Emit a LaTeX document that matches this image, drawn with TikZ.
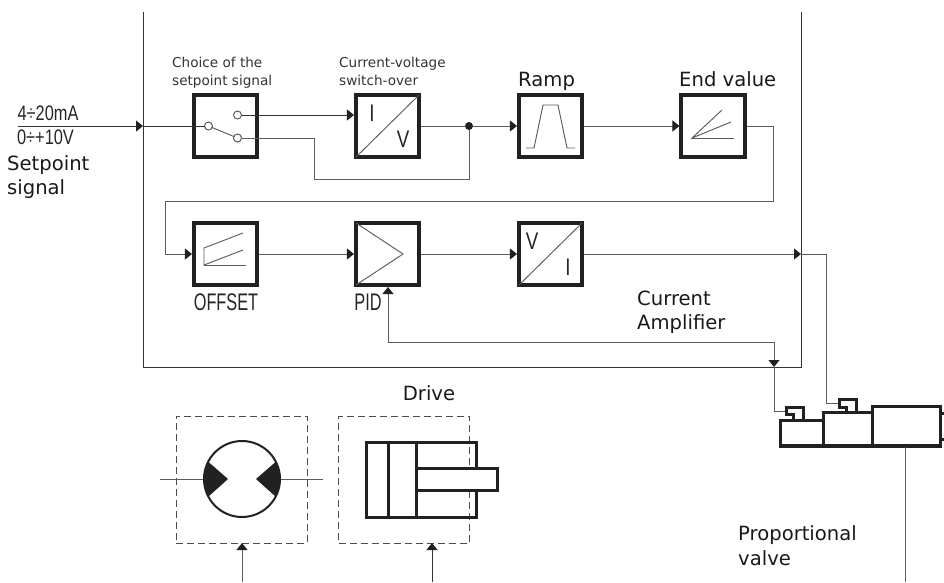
\documentclass[tikz,border=0pt]{standalone}
\usepackage{fontspec}
\setmainfont{DejaVu Sans}
\newfontfamily\narrowf[FakeStretch=0.78]{Liberation Sans}
\newfontfamily\narrowg[FakeStretch=0.68]{Liberation Sans}
\usetikzlibrary{arrows.meta,calc}
\definecolor{thin}{gray}{0.36}
\definecolor{ink}{gray}{0.13}
\tikzset{
  x=1pt,y=-1pt,
  blk/.style={draw=ink,line width=3.6pt,minimum width=63.5pt,minimum height=62.5pt,inner sep=0pt,outer sep=1.8pt,fill=white},
  wire/.style={draw=thin,line width=0.95pt},
  wirea/.style={wire,-{Triangle[length=7pt,width=11pt,fill=ink,color=ink]}},
  inner/.style={draw=thin,line width=0.95pt},
  contact/.style={circle,draw=thin,line width=1pt,minimum size=8pt,inner sep=0pt,outer sep=0pt,fill=white},
  lab/.style={inner sep=0pt,anchor=base west,align=left},
  small/.style={font=\fontsize{13.6}{15}\selectfont,text=black!80},
  big/.style={font=\fontsize{19.6}{22}\selectfont,text=black!90},
  narrow/.style={inner sep=0pt,font=\narrowf\fontsize{21}{22}\selectfont,text=black!85},
  tallnarrow/.style={inner sep=0pt,font=\narrowg\fontsize{24}{25}\selectfont,text=black!85},
  glyph/.style={inner sep=0pt,font=\narrowf\fontsize{24}{25}\selectfont,text=black!85},
  valve/.style={draw=ink,line width=3pt,line join=miter},
  cyl/.style={draw=ink,line width=3pt},
  dashbox/.style={draw=black!70,line width=0.95pt,dash pattern=on 7pt off 4pt,minimum width=131pt,minimum height=127pt,inner sep=0pt,outer sep=0pt},
}
\begin{document}
\begin{tikzpicture}
\useasboundingbox (0,0) rectangle (944,582);
% frame
\coordinate (ftl) at (143,12); \coordinate (fbl) at (143,367);
\coordinate (fbr) at (801,367); \coordinate (ftr) at (801,12);
\draw[draw=black!80,line width=0.95pt] (ftl) -- (fbl) -- (fbr) -- (ftr);
% blocks
\node[blk] (sw) at (225.5,126) {};
\node[blk] (iv) at (387.5,126) {};
\node[blk] (ramp) at (550.5,126) {};
\node[blk] (endv) at (713,126) {};
\node[blk] (off) at (225.5,254) {};
\node[blk] (pid) at (387.5,254) {};
\node[blk] (vi) at (550.5,254) {};
% switch
\node[contact] (cl) at (208.5,126) {};
\node[contact] (cu) at (237.5,115) {};
\node[contact] (cd) at (237.5,138) {};
\draw[inner] (cl) -- (cd);
% block insides
\draw[inner] (419,95) -- (356,157);
\draw[inner] (582,223) -- (519,285);
\node[glyph] (ivi) at (372,113) {I};
\node[glyph] (ivv) at (403,139) {V};
\node[glyph] (viv) at (532,241) {V};
\node[glyph] (vii) at (568,267) {I};
\draw[inner] (526,148) -- (534,148) -- (543,105) -- (558,105) -- (567,148) -- (575,148);
\draw[inner] (722,110) -- (692,138) -- (731,122);
\draw[inner] (692,138) -- (734,138);
\draw[inner] (243,233) -- (204,248) -- (204,265) -- (243,250);
\draw[inner] (204,265) -- (246,265);
\draw[inner] (356,223) -- (403,254) -- (356,285);
% input
\coordinate (in) at (18,126);
\coordinate (fin) at (143,126);
\draw[wirea,draw=black!80] (in) -- (fin);
\draw[wire,draw=black!80] (fin) -- (cl);
% switch outputs
\coordinate (ivin) at (iv.west |- cu);
\draw[wirea,draw=black!80] (cu) -- (ivin);
\node[circle,fill=ink,minimum size=8pt,inner sep=0pt] (dot) at (469,126) {};
\draw[wire] (iv.east) -- (dot);
\draw[wirea] (dot) -- (ramp.west);
\draw[wire] (cd) -- (314,138) -- (314,179) -- (469,179) -- (dot);
\draw[wirea] (ramp.east) -- (endv.west);
\draw[wirea] (endv.east) -- (773,126) -- (773,201) -- (165,201) -- (165,254) -- (off.west);
\draw[wirea] (off.east) -- (pid.west);
\draw[wirea] (pid.east) -- (vi.west);
% output
\coordinate (fout) at (801,254);
\coordinate (vin2) at (839,403);
\draw[wirea] (vi.east) -- (fout);
\draw[wire] (fout) -- (826,254) -- (826,403) -- (vin2);
% feedback
\coordinate (pidb) at (388,287);
\coordinate (fba) at (774,367);
\coordinate (vin1) at (786,411);
\draw[wirea] (774,342) -- (388,342) -- (pidb);
\draw[wirea] (774,342) -- (fba);
\draw[wire] (fba) -- (774,411) -- (vin1);
% valve
\draw[valve] (803,420) -- (803,407) -- (786,407) -- (786,414) -- (793,414) -- (793,420);
\draw[valve] (856,412) -- (856,399) -- (839,399) -- (839,407) -- (846,407) -- (846,412);
\draw[valve] (780,446) -- (780,420) -- (823,420) -- (823,446);
\draw[valve] (823,420) -- (823,412) -- (872,412);
\draw[valve] (872,446) -- (872,406) -- (940,406) -- (940,446);
\draw[draw=ink,line width=4pt] (778.5,446) -- (941.5,446);
\draw[valve] (940,413) -- (944,413);
\draw[valve] (940,439) -- (944,439);
\coordinate (stem) at (905,447);
\coordinate (stemb) at (905,582);
\draw[wire] (stem) -- (stemb);
% dashed boxes
\node[dashbox] (d1) at (241.5,479.5) {};
\node[dashbox] (d2) at (404,479.5) {};
% motor
\node[circle,draw=ink,line width=2pt,minimum size=76pt,inner sep=0pt,outer sep=1pt] (mot) at (242,479) {};
\fill[ink] (208.5,462) arc[start angle=-153,end angle=-207,radius=38] -- (228,479) -- cycle;
\fill[ink] (275.5,462) arc[start angle=-27,end angle=27,radius=38] -- (256,479) -- cycle;
\coordinate (ml) at (160,479); \coordinate (mr) at (323,479);
\draw[wire] (ml) -- (mot.west);
\draw[wire] (mot.east) -- (mr);
% cylinder
\draw[cyl] (366,442) rectangle (476,517);
\draw[cyl] (388,442) -- (388,517);
\draw[cyl] (416,442) -- (416,517);
\fill[white] (477.6,469) rectangle (474,489);
\draw[cyl] (416,468) rectangle (497,490);
\fill[white] (417.5,469.5) rectangle (495.5,488.5);
% actuator arrows
\coordinate (a1) at (242,582); \coordinate (a2) at (432,582);
\draw[wirea] (a1) -- (a1 |- d1.south);
\draw[wirea,draw=black!80] (a2) -- (a2 |- d2.south);
% texts
\node[narrow] (t1) at (48,113) {4÷20mA};
\node[narrow] (t2) at (45.5,137) {0÷+10V};
\node[lab,big] (t3) at (7,170) {Setpoint};
\node[lab,big] (t4) at (7,194) {signal};
\node[lab,small] (t5) at (172,67) {Choice of the};
\node[lab,small] (t6) at (172,85) {setpoint signal};
\node[lab,small] (t7) at (339,67) {Current-voltage};
\node[lab,small] (t8) at (339,85) {switch-over};
\node[lab,big] (t9) at (518,86) {Ramp};
\node[lab,big] (t10) at (679,86) {End value};
\node[tallnarrow] (t11) at (226,302) {OFFSET};
\node[tallnarrow] (t12) at (368,302) {PID};
\node[lab,big] (t13) at (637,305) {Current};
\node[lab,big] (t14) at (637,329) {Amplifier};
\node[lab,big,anchor=base] (t15) at (429,400) {Drive};
\node[lab,big] (t16) at (738,540) {Proportional};
\node[lab,big] (t17) at (738,565) {valve};
\end{tikzpicture}
\end{document}
